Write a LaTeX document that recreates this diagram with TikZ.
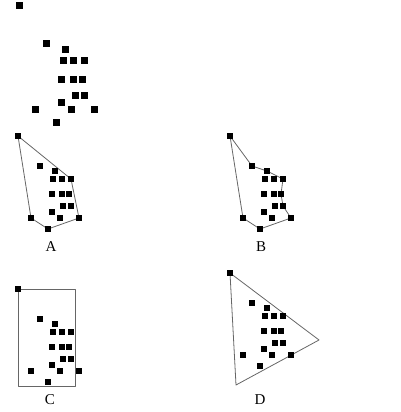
\documentclass[tikz,border=0pt]{standalone}
\usepackage{fontspec}
\setmainfont{Liberation Serif}
\usetikzlibrary{backgrounds}
\begin{document}
\begin{tikzpicture}[x=1pt,y=-1pt,
  bigpt/.style={fill=black,minimum size=7pt,inner sep=0pt,outer sep=0pt},
  smallpt/.style={fill=black,minimum size=5.8pt,inner sep=0pt,outer sep=0pt},
  hull/.style={draw=black!60,line width=0.8pt,line join=round},
  lab/.style={font=\fontsize{15}{15}\selectfont,inner sep=0pt}]
\useasboundingbox (0,0) rectangle (400,412);
% original point set
\foreach \n/\x/\y in {1/19/6,2/46/44,3/65/50,4/63/61,5/73/61,6/84/61,7/61/79,8/73/79,9/82/79,10/75/95,11/84/95,12/61/102,13/35/109,14/71/109,15/94/109,16/56/122}
  \node[bigpt] (O\n) at (\x,\y) {};
% four copies
\foreach \p/\dx/\dy in {A/0/0,B/212/0,C/0/153,D/212/137}
  \foreach \n/\x/\y in {1/18/136,2/40/166,3/55/171,4/53/179,5/62/179,6/71/179,7/52/194,8/62/194,9/69/194,10/63/206,11/71/206,12/52/212,13/31/218,14/60/218,15/79/218,16/48/229}
    \node[smallpt] (\p\n) at (\x+\dx,\y+\dy) {};
\coordinate (Cbr) at (75,386);
\coordinate (Dr) at (319,340);
\coordinate (Dbl) at (236,385);
\begin{pgfonlayer}{background}
  \draw[hull] (A1.center) -- (A6.center) -- (A15.center) -- (A16.center) -- (A13.center) -- cycle;
  \draw[hull] (B1.center) -- (B2.center) -- (B3.center) -- (B6.center) -- (B9.center) -- (B11.center) -- (B15.center) -- (B16.center) -- (B13.center) -- cycle;
  \draw[hull] (C1.center) rectangle (Cbr);
  \draw[hull] (D1.center) -- (Dr) -- (Dbl) -- cycle;
\end{pgfonlayer}
\node[lab] (la) at (51,247) {A};
\node[lab] (lb) at (261,247) {B};
\node[lab] (lc) at (50,400) {C};
\node[lab] (ld) at (260,400) {D};
\end{tikzpicture}
\end{document}
